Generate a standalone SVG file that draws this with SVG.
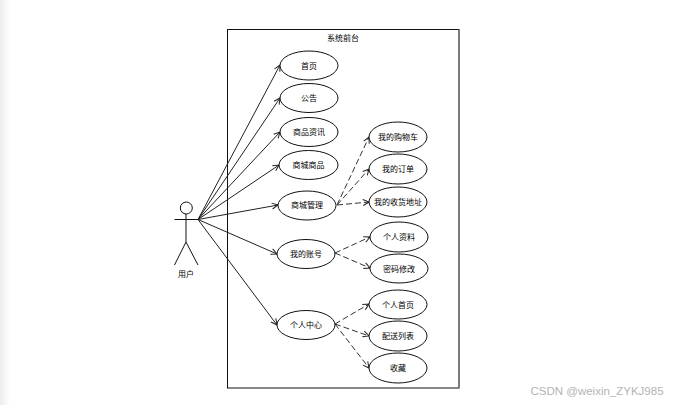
<svg xmlns="http://www.w3.org/2000/svg" width="675" height="405" viewBox="0 0 675 405">
<style>
.n{fill:#fff;stroke:#111;stroke-width:1}
.t{font-family:"Noto Sans CJK SC","Liberation Sans",sans-serif;font-size:8px;fill:#000;text-anchor:middle}
.a{stroke:#222;stroke-width:1;fill:none;marker-end:url(#arr)}
.d{stroke:#333;stroke-width:1;fill:none;stroke-dasharray:6 3;marker-end:url(#arr)}
.s{stroke:#111;stroke-width:1;fill:none}
</style>
<defs>
<linearGradient id="edge" x1="0" x2="1" y1="0" y2="0"><stop offset="0" stop-color="#ececec"/><stop offset="1" stop-color="#fff"/></linearGradient>
<marker id="arr" markerUnits="userSpaceOnUse" markerWidth="10" markerHeight="10" refX="7" refY="4" orient="auto"><path d="M1 1L7 4L1 7" fill="none" stroke="#222" stroke-width="1"/></marker>
</defs>
<rect width="675" height="405" fill="#fff"/>
<rect width="10" height="405" fill="url(#edge)"/>
<g id="system">
<rect x="227.500" y="29.500" width="231.500" height="358.500" fill="#fff" stroke="#111" stroke-width="1"/>
<path d="M459 29.500V388" stroke="#777" stroke-width="1.500" fill="none"/>
<text class="t" x="343" y="41">系统前台</text>
</g>
<g id="connectors">
<path class="a" d="M198 219.500L280 65"/>
<path class="a" d="M198 219.500L280 98"/>
<path class="a" d="M198 219.500L280 132"/>
<path class="a" d="M198 219.500L279 165"/>
<path class="a" d="M198 219.500L278 205"/>
<path class="a" d="M198 219.500L277 254"/>
<path class="a" d="M198 219.500L277 325"/>
<path class="d" d="M337 205L369 137"/>
<path class="d" d="M337 205L369 169"/>
<path class="d" d="M337 205L369 202"/>
<path class="d" d="M335 253L370 237"/>
<path class="d" d="M335 253L370 268"/>
<path class="d" d="M335 324L369 304"/>
<path class="d" d="M335 324L369 336"/>
<path class="d" d="M335 324L369 368"/>
</g>
<g id="actor">
<circle class="s" cx="186.300" cy="208" r="6"/>
<path class="s" d="M186 214V242M174.500 219.500H198M186 242L174.500 265M186 242L198 265"/>
<text class="t" x="186" y="276.500">用户</text>
</g>
<g id="n1"><ellipse class="n" cx="309" cy="65.500" rx="29" ry="14.500"/><text class="t" x="309" y="68.500">首页</text></g>
<g id="n2"><ellipse class="n" cx="309" cy="98" rx="29" ry="14.500"/><text class="t" x="309" y="101">公告</text></g>
<g id="n3"><ellipse class="n" cx="309" cy="132" rx="29" ry="14.500"/><text class="t" x="309" y="135">商品资讯</text></g>
<g id="n4"><ellipse class="n" cx="308.500" cy="165" rx="29.500" ry="14.500"/><text class="t" x="308.500" y="168">商城商品</text></g>
<g id="n5"><ellipse class="n" cx="307" cy="205.500" rx="29" ry="14.500"/><text class="t" x="307" y="208">商城管理</text></g>
<g id="n6"><ellipse class="n" cx="306" cy="254" rx="29" ry="14.500"/><text class="t" x="306" y="257">我的账号</text></g>
<g id="n7"><ellipse class="n" cx="306" cy="325" rx="29" ry="14.500"/><text class="t" x="306" y="328">个人中心</text></g>
<g id="n8"><ellipse class="n" cx="398" cy="137" rx="29" ry="15"/><text class="t" x="398" y="140">我的购物车</text></g>
<g id="n9"><ellipse class="n" cx="398" cy="169" rx="29" ry="15"/><text class="t" x="398" y="172">我的订单</text></g>
<g id="n10"><ellipse class="n" cx="398" cy="202" rx="29" ry="15"/><text class="t" x="398" y="204.500">我的收货地址</text></g>
<g id="n11"><ellipse class="n" cx="399" cy="237" rx="29" ry="15"/><text class="t" x="399" y="240">个人资料</text></g>
<g id="n12"><ellipse class="n" cx="399" cy="268.500" rx="29" ry="14.500"/><text class="t" x="399" y="271.500">密码修改</text></g>
<g id="n13"><ellipse class="n" cx="398" cy="304.500" rx="29" ry="14.500"/><text class="t" x="398" y="307.500">个人首页</text></g>
<g id="n14"><ellipse class="n" cx="398" cy="336" rx="29" ry="15"/><text class="t" x="398" y="339">配送列表</text></g>
<g id="n15"><ellipse class="n" cx="398" cy="368" rx="29" ry="15"/><text class="t" x="398" y="371">收藏</text></g>
<text x="597" y="395" font-family="'Liberation Sans',sans-serif" font-size="11.500" fill="#b4b4b4" text-anchor="middle">CSDN @weixin_ZYKJ985</text>
</svg>
